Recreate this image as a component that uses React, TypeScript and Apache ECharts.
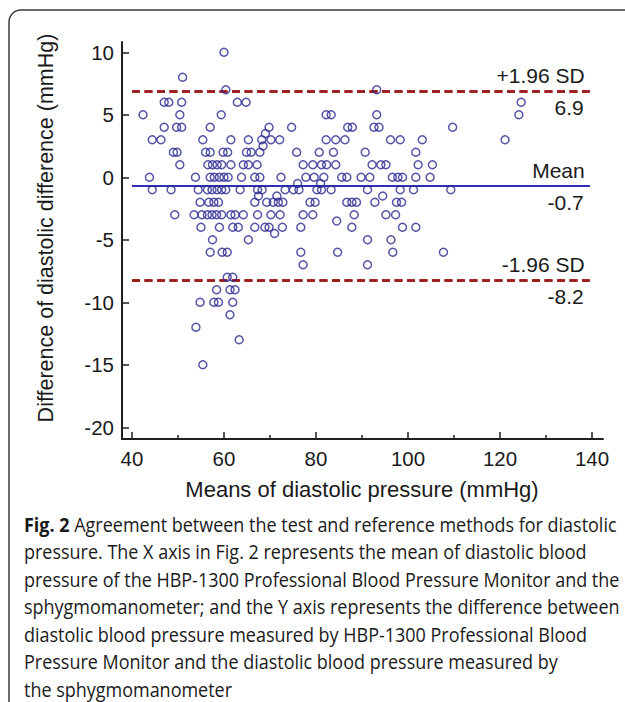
import React, { useEffect, useRef } from "react";
import * as echarts from "echarts";

// ---- data (Bland–Altman, diastolic) ----
const xTickValues = [40, 60, 80, 100, 120, 140];
const xMinorTickValues = [50, 70, 90, 110, 130];
const yTickValues = [-20, -15, -10, -5, 0, 5, 10];

// difference levels and the mean pressures observed at each level
const diffLevels = [10, 8, 7, 6, 5, 4, 3.5, 3, 2.5, 2, 1, 0, -0.5, -1, -1.5, -2, -3, -3.5, -4, -4.5, -5, -6, -7, -8, -9, -10, -11, -12, -13, -15];
const meansAtLevel = [
  [60],
  [51],
  [60.4, 93.2],
  [47.0, 48.0, 50.8, 62.9, 64.8, 124.6],
  [42.4, 50.4, 59.4, 82.2, 83.3, 93.2, 124.1],
  [47.0, 49.7, 50.8, 57.0, 69.8, 74.7, 86.9, 87.9, 92.6, 93.7, 109.7],
  [69.0],
  [44.4, 46.3, 55.4, 61.5, 65.3, 68.2, 70.2, 72.1, 82.2, 84.3, 86.3, 96.2, 98.3, 103.1, 121.1],
  [68.5],
  [49.0, 49.8, 56.0, 57.0, 59.8, 60.8, 64.9, 65.9, 67.8, 75.8, 80.7, 83.8, 90.7, 101.7],
  [50.4, 56.5, 57.5, 58.5, 59.5, 61.5, 64.2, 65.3, 67.2, 77.2, 79.3, 81.2, 82.3, 84.3, 92.2, 94.1, 95.2, 102.2, 105.3],
  [43.8, 53.8, 57.0, 57.9, 59.0, 60.0, 60.9, 63.8, 66.7, 67.8, 72.4, 77.8, 79.6, 81.7, 85.6, 86.7, 89.8, 91.7, 96.6, 97.8, 98.8, 101.7, 104.8],
  [76.0, 81.0],
  [44.4, 48.5, 54.4, 56.4, 57.4, 58.5, 59.5, 60.4, 63.5, 67.3, 68.3, 73.3, 75.1, 76.3, 80.2, 81.2, 83.3, 91.2, 98.3, 101.2, 109.3],
  [67.5, 71.5, 94.5],
  [54.8, 56.7, 57.8, 58.8, 66.7, 69.3, 70.7, 71.8, 72.8, 78.7, 79.8, 86.7, 87.8, 88.8, 92.8, 97.5, 98.6],
  [49.3, 53.5, 55.2, 56.4, 57.4, 58.4, 59.5, 61.5, 62.4, 64.2, 67.3, 70.2, 72.2, 77.2, 79.3, 88.3, 95.2, 97.3],
  [84.5],
  [55.0, 59.0, 61.9, 63.1, 66.7, 68.9, 69.8, 72.7, 76.7, 87.8, 98.8, 101.7],
  [71.0],
  [57.5, 65.3, 91.2, 96.3],
  [57.0, 59.6, 60.7, 76.7, 84.7, 96.7, 107.7],
  [77.2, 91.2],
  [60.7, 61.9],
  [58.4, 61.3, 62.4],
  [54.8, 57.8, 58.8, 61.9],
  [61.3],
  [53.9],
  [63.3],
  [55.4],
];

const limitValues = [6.9, -0.7, -8.2];
const limitNames = ["+1.96 SD", "Mean", "-1.96 SD"];
const limitValueLabels = ["6.9", "-0.7", "-8.2"];
const limitLineX = [40, 139.5];

const xAxisTitle = "Means of diastolic pressure (mmHg)";
const yAxisTitle = "Difference of diastolic difference (mmHg)";
const captionTitle = "Fig. 2";
const captionLines = [
  " Agreement between the test and reference methods for diastolic",
  "pressure. The X axis in Fig. 2 represents the mean of diastolic blood",
  "pressure of the HBP-1300 Professional Blood Pressure Monitor and the",
  "sphygmomanometer; and the Y axis represents the difference between",
  "diastolic blood pressure measured by HBP-1300 Professional Blood",
  "Pressure Monitor and the diastolic blood pressure measured by",
  "the sphygmomanometer",
];

const FONT = "'Liberation Sans', Arial, Helvetica, sans-serif";
const CAP_FONT = "'Open Sans', 'Noto Sans', sans-serif";
const CAP_SIZE = 19.5;
const TEXT_COLOR = "#1a1a1a";
const POINT_COLOR = "#2b2b92";
const RED = "#9c1b1b";
const BLUE = "#2f2fb6";

export default function App() {
  const ref = useRef<HTMLDivElement>(null);

  useEffect(() => {
    const el = ref.current;
    if (!el) return;
    const chart = echarts.init(el, null, { renderer: "svg" });

    const points: number[][] = [];
    diffLevels.forEach((d, i) => {
      meansAtLevel[i].forEach((m) => points.push([m, d]));
    });

    // horizontal compression of caption to match the condensed face
    let capScale = 0.82;
    try {
      const ctx = document.createElement("canvas").getContext("2d");
      if (ctx) {
        ctx.font = `bold ${CAP_SIZE}px ${CAP_FONT}`;
        const wb = ctx.measureText(captionTitle).width;
        ctx.font = `${CAP_SIZE}px ${CAP_FONT}`;
        const wr = ctx.measureText(captionLines[0]).width;
        if (wb + wr > 0) capScale = 593 / (wb + wr);
      }
    } catch (e) {}

    const lineColors = [RED, BLUE, RED];
    const lineTypes: any[] = [[8, 4.5], "solid", [8, 4.5]];
    const lineWidths = [2.5, 2, 2.5];
    const markData: any[] = [];
    limitValues.forEach((v, i) => {
      const ls = { color: lineColors[i], type: lineTypes[i], width: lineWidths[i] };
      markData.push([
        {
          coord: [limitLineX[0], v],
          lineStyle: ls,
          label: {
            show: true,
            position: "insideEndTop",
            formatter: limitNames[i],
            distance: 5,
            fontSize: 21,
            fontFamily: FONT,
            color: TEXT_COLOR,
          },
        },
        { coord: [limitLineX[1], v] },
      ]);
      markData.push([
        {
          coord: [limitLineX[0], v],
          lineStyle: ls,
          label: {
            show: true,
            position: "insideEndBottom",
            formatter: limitValueLabels[i],
            distance: 6,
            fontSize: 21,
            fontFamily: FONT,
            color: TEXT_COLOR,
          },
        },
        { coord: [limitLineX[1], v] },
      ]);
    });

    const captionGraphics: any[] = captionLines.map((t, i) => ({
      type: "text",
      x: 24,
      y: 524 + i * 27.5,
      scaleX: capScale,
      style:
        i === 0
          ? {
              text: `{b|${captionTitle}}${t}`,
              rich: {
                b: {
                  fontWeight: "bold",
                  fontSize: CAP_SIZE,
                  fontFamily: CAP_FONT,
                  fill: TEXT_COLOR,
                  lineHeight: 20,
                },
              },
              fontSize: CAP_SIZE,
              fontFamily: CAP_FONT,
              fill: TEXT_COLOR,
              lineHeight: 20,
              verticalAlign: "middle",
              textAlign: "left",
            }
          : {
              text: t,
              fontSize: CAP_SIZE,
              fontFamily: CAP_FONT,
              fill: TEXT_COLOR,
              lineHeight: 20,
              verticalAlign: "middle",
              textAlign: "left",
            },
    }));

    const axisCommon = {
      axisLine: { show: true, onZero: false, lineStyle: { color: "#1f1f1f", width: 2 } },
      splitLine: { show: false },
    };

    chart.setOption({
      animation: false,
      backgroundColor: "#ffffff",
      grid: { left: 122, right: 22, top: 42, bottom: 263, containLabel: false },
      xAxis: [
        {
          type: "value",
          min: 37.83,
          max: 142.39,
          ...axisCommon,
          axisTick: {
            show: true,
            inside: true,
            length: 7,
            customValues: xTickValues,
            lineStyle: { color: "#1f1f1f", width: 1.5 },
          },
          axisLabel: {
            show: true,
            customValues: xTickValues,
            margin: 9,
            fontSize: 20.5,
            fontFamily: FONT,
            color: TEXT_COLOR,
          },
        },
        {
          type: "value",
          position: "bottom",
          min: 37.83,
          max: 142.39,
          axisLine: { show: false, onZero: false },
          splitLine: { show: false },
          axisTick: {
            show: true,
            inside: true,
            length: 4,
            customValues: xMinorTickValues,
            lineStyle: { color: "#1f1f1f", width: 1.5 },
          },
          axisLabel: { show: false },
        },
      ],
      yAxis: {
        type: "value",
        min: -20.94,
        max: 10.82,
        ...axisCommon,
        axisTick: {
          show: true,
          inside: true,
          length: 7,
          customValues: yTickValues,
          lineStyle: { color: "#1f1f1f", width: 1.5 },
        },
        axisLabel: {
          show: true,
          customValues: yTickValues,
          margin: 8,
          fontSize: 20.5,
          fontFamily: FONT,
          color: TEXT_COLOR,
        },
      },
      graphic: [
        {
          type: "rect",
          shape: { x: 9, y: 10, width: 700, height: 800, r: 12 },
          style: { fill: "none", stroke: "#3a3a3a", lineWidth: 1.5 },
          silent: true,
          z: -10,
        },
        {
          type: "text",
          x: 362,
          y: 489,
          style: {
            text: xAxisTitle,
            fontSize: 22,
            fontFamily: FONT,
            fill: TEXT_COLOR,
            textAlign: "center",
            verticalAlign: "middle",
          },
        },
        {
          type: "text",
          x: 46,
          y: 228,
          rotation: Math.PI / 2,
          style: {
            text: yAxisTitle,
            fontSize: 21.5,
            fontFamily: FONT,
            fill: TEXT_COLOR,
            textAlign: "center",
            verticalAlign: "middle",
          },
        },
        ...captionGraphics,
      ],
      series: [
        {
          type: "scatter",
          xAxisIndex: 0,
          yAxisIndex: 0,
          data: points,
          symbol: "circle",
          symbolSize: 8,
          itemStyle: { color: "rgba(0,0,0,0)", borderColor: POINT_COLOR, borderWidth: 1.5 },
          z: 3,
          markLine: {
            silent: true,
            symbol: ["none", "none"],
            animation: false,
            data: markData,
            z: 2,
          },
        },
      ],
    });

    return () => {
      chart.dispose();
    };
  }, []);

  return (
    <div
      ref={ref}
      style={{ position: "absolute", left: 0, top: 0, width: 625, height: 702, background: "#fff" }}
    />
  );
}
